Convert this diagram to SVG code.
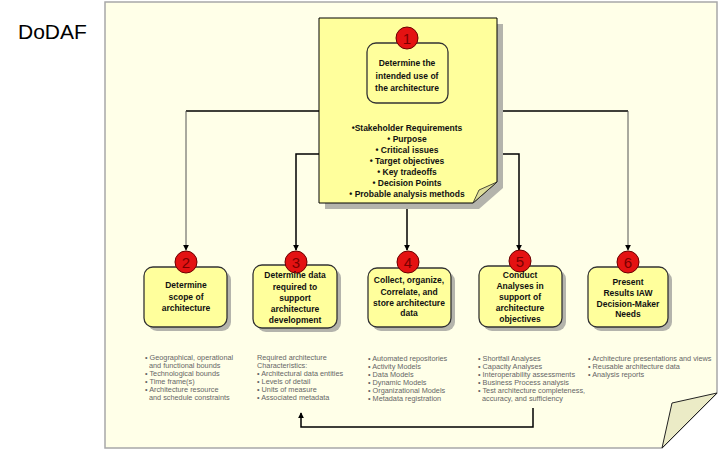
<svg xmlns="http://www.w3.org/2000/svg" width="720" height="450" viewBox="0 0 720 450">
<defs>
<marker id="arr" viewBox="0 0 8 8" refX="7" refY="4" markerWidth="6" markerHeight="6" orient="auto" markerUnits="userSpaceOnUse">
<path d="M0,0 L8,4 L0,8 Z" fill="#000"/>
</marker>
<style>
.page{fill:#FFFFE8;stroke:#A8A8A8;stroke-width:1.5}
.flap{fill:#EBEBC6;stroke:#222;stroke-width:1}
.note{fill:#FFFF9C;stroke:#000;stroke-width:1}
.nflap{fill:#DEDE98;stroke:#222;stroke-width:0.8}
.shadow{fill:#B4B4AC}
.box{fill:#FFFF9C;stroke:#333;stroke-width:1.3}
.num{fill:#E41212;stroke:#6A0000;stroke-width:1}
.nt{font-family:"Liberation Sans",Arial,sans-serif;font-size:15px;fill:#7A0000;text-anchor:middle}
.t{font-family:"Liberation Sans",Arial,sans-serif;font-size:8.5px;font-weight:bold;fill:#111;text-anchor:middle}
.s{font-family:"Liberation Sans",Arial,sans-serif;font-size:7.3px;fill:#666}
.c{fill:none;stroke:#000;stroke-width:1.5}
.cg{fill:none;stroke:#555;stroke-width:1}
</style>
</defs>
<rect x="0" y="0" width="720" height="450" fill="#fff"/>
<text x="18" y="39" font-family="Liberation Sans,Arial,sans-serif" font-size="21" fill="#000">DoDAF</text>

<g id="page">
<polygon class="page" points="105,2 717,2 717,393 662,448 105,448"/>
<polygon class="flap" points="717,393 672,403 662,448"/>
</g>

<g id="connectors">
<path class="c" d="M407,103 V121" marker-end="url(#arr)"/>
<path class="c" d="M319,111 H186"/>
<path class="cg" d="M186,111 V250" marker-end="url(#arr)"/>
<path class="c" d="M319,154 H296 V250" marker-end="url(#arr)"/>
<path class="c" d="M407,203 V250" marker-end="url(#arr)"/>
<path class="c" d="M497,154 H519 V250" marker-end="url(#arr)"/>
<path class="c" d="M497,111 H628"/>
<path class="cg" d="M628,111 V250" marker-end="url(#arr)"/>
<path class="c" d="M533,408 V427 H301 V413" marker-end="url(#arr)"/>
</g>

<g id="note1">
<polygon class="shadow" points="325,24 503,24 503,188 479,209 325,209"/>
<polygon class="note" points="319,18 497,18 497,182 473,203 319,203"/>
<polygon class="nflap" points="497,182 479,190 473,203"/>
<rect class="box" x="367" y="43" width="81" height="60" rx="9"/>
<circle class="num" cx="407" cy="38" r="11"/>
<text class="nt" x="407" y="43.5">1</text>
<text class="t" x="407" y="66">Determine the</text>
<text class="t" x="407" y="78.5">intended use of</text>
<text class="t" x="407" y="91">the architecture</text>
<text class="t" x="407" y="131">•Stakeholder Requirements</text>
<text class="t" x="407" y="142">• Purpose</text>
<text class="t" x="407" y="153">• Critical issues</text>
<text class="t" x="407" y="164">• Target objectives</text>
<text class="t" x="407" y="175">• Key tradeoffs</text>
<text class="t" x="407" y="186">• Decision Points</text>
<text class="t" x="407" y="196.5">• Probable analysis methods</text>
</g>

<g id="node2">
<rect class="shadow" x="148" y="271" width="83" height="60" rx="9"/>
<rect class="box" x="144" y="267" width="83" height="60" rx="9"/>
<circle class="num" cx="186" cy="262" r="11"/>
<text class="nt" x="186" y="267.5">2</text>
<text class="t" x="186" y="288">Determine</text>
<text class="t" x="186" y="300">scope of</text>
<text class="t" x="186" y="311">architecture</text>
</g>

<g id="node3">
<rect class="shadow" x="257" y="269" width="84" height="63" rx="9"/>
<rect class="box" x="253" y="265" width="84" height="63" rx="9"/>
<circle class="num" cx="296" cy="262" r="11"/>
<text class="nt" x="296" y="267.5">3</text>
<text class="t" x="295" y="278">Determine data</text>
<text class="t" x="295" y="289.5">required to</text>
<text class="t" x="295" y="301">support</text>
<text class="t" x="295" y="312">architecture</text>
<text class="t" x="295" y="323">development</text>
</g>

<g id="node4">
<rect class="shadow" x="372" y="272" width="83" height="59" rx="9"/>
<rect class="box" x="368" y="268" width="83" height="59" rx="9"/>
<circle class="num" cx="408" cy="262" r="11"/>
<text class="nt" x="408" y="267.5">4</text>
<text class="t" x="409" y="283">Collect, organize,</text>
<text class="t" x="409" y="294.5">Correlate, and</text>
<text class="t" x="409" y="305.5">store architecture</text>
<text class="t" x="409" y="316">data</text>
</g>

<g id="node5">
<rect class="shadow" x="483" y="270" width="83" height="61" rx="9"/>
<rect class="box" x="479" y="266" width="83" height="61" rx="9"/>
<circle class="num" cx="520" cy="261" r="11"/>
<text class="nt" x="520" y="266.5">5</text>
<text class="t" x="520" y="278">Conduct</text>
<text class="t" x="520" y="289">Analyses in</text>
<text class="t" x="520" y="300">support of</text>
<text class="t" x="520" y="311">architecture</text>
<text class="t" x="520" y="322">objectives</text>
</g>

<g id="node6">
<rect class="shadow" x="592" y="271" width="80" height="60" rx="9"/>
<rect class="box" x="588" y="267" width="80" height="60" rx="9"/>
<circle class="num" cx="628" cy="262" r="11"/>
<text class="nt" x="628" y="267.5">6</text>
<text class="t" x="628" y="285">Present</text>
<text class="t" x="628" y="296">Results IAW</text>
<text class="t" x="628" y="306.5">Decision-Maker</text>
<text class="t" x="628" y="317">Needs</text>
</g>

<g id="list2">
<text class="s" x="145" y="359.5">• Geographical, operational</text>
<text class="s" x="149" y="367.5">and functional bounds</text>
<text class="s" x="145" y="375.5">• Technological bounds</text>
<text class="s" x="145" y="383.5">• Time frame(s)</text>
<text class="s" x="145" y="391.5">• Architecture resource</text>
<text class="s" x="149" y="399.5">and schedule constraints</text>
</g>
<g id="list3">
<text class="s" x="257" y="359.5">Required architecture</text>
<text class="s" x="257" y="367.5">Characteristics:</text>
<text class="s" x="257" y="375.5">• Architectural data entities</text>
<text class="s" x="257" y="383.5">• Levels of detail</text>
<text class="s" x="257" y="391.5">• Units of measure</text>
<text class="s" x="257" y="399.5">• Associated metadata</text>
</g>
<g id="list4">
<text class="s" x="368" y="360.5">• Automated repositories</text>
<text class="s" x="368" y="368.5">• Activity Models</text>
<text class="s" x="368" y="376.5">• Data Models</text>
<text class="s" x="368" y="384.5">• Dynamic Models</text>
<text class="s" x="368" y="392.5">• Organizational Models</text>
<text class="s" x="368" y="400.5">• Metadata registration</text>
</g>
<g id="list5">
<text class="s" x="478" y="360.5">• Shortfall Analyses</text>
<text class="s" x="478" y="368.5">• Capacity Analyses</text>
<text class="s" x="478" y="376.5">• Interoperability assessments</text>
<text class="s" x="478" y="384.5">• Business Process analysis</text>
<text class="s" x="478" y="392.5">• Test architecture completeness,</text>
<text class="s" x="482" y="400.5">accuracy, and sufficiency</text>
</g>
<g id="list6">
<text class="s" x="588" y="360.5">• Architecture presentations and views</text>
<text class="s" x="588" y="368.5">• Reusable architecture data</text>
<text class="s" x="588" y="376.5">• Analysis reports</text>
</g>
</svg>
